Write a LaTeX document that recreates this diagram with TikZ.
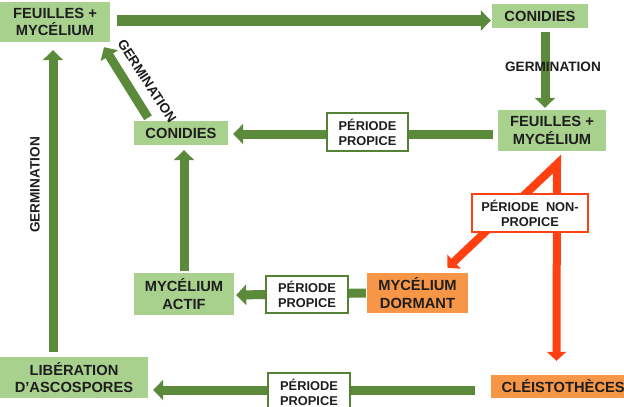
\documentclass[tikz,border=0pt]{standalone}
\usepackage{fontspec}
\setmainfont{Liberation Sans}
\usetikzlibrary{arrows.meta}
\definecolor{garr}{HTML}{5A8A3A}
\definecolor{lgreen}{HTML}{A9D18E}
\definecolor{oran}{HTML}{F79646}
\definecolor{rarr}{HTML}{FF4010}
\definecolor{bord}{HTML}{548235}
\definecolor{txt}{HTML}{1E1E1E}
\begin{document}
\begin{tikzpicture}[x=1pt,y=-1pt,
  gbox/.style={fill=lgreen, inner sep=0pt, align=center, text=txt,
    font=\bfseries\fontsize{14.7}{17.5}\selectfont},
  obox/.style={gbox, fill=oran},
  ppbox/.style={draw=bord, line width=1.8pt, fill=white, inner sep=0pt, align=center, text=txt,
    font=\bfseries\fontsize{12.8}{15}\selectfont},
  nppbox/.style={ppbox, draw=rarr},
  lab/.style={inner sep=0pt, text=txt, font=\bfseries\fontsize{13.6}{15}\selectfont},
  garrow/.style={draw=garr, line width=9pt, -{Triangle[width=20pt,length=10pt]}},
  rarrow/.style={draw=rarr, line width=8pt, line join=miter, {Triangle[width=19pt,length=9pt]}-{Triangle[width=19pt,length=9pt]}}
]
\clip (0,0) rectangle (624,407);
\fill[white] (0,0) rectangle (624,407);

% nodes
\node[gbox, minimum width=110pt, minimum height=40pt] (f1) at (55,22) {FEUILLES +\\MYCÉLIUM};
\node[gbox, minimum width=96pt, minimum height=24pt] (c1) at (540,16) {CONIDIES};
\node[gbox, minimum width=108pt, minimum height=41pt] (f2) at (552,130.5) {FEUILLES +\\MYCÉLIUM};
\node[gbox, minimum width=94pt, minimum height=24pt] (c2) at (181,133) {CONIDIES};
\node[gbox, minimum width=100pt, minimum height=42pt] (ma) at (184,294) {MYCÉLIUM\\ACTIF};
\node[obox, minimum width=101pt, minimum height=40pt] (md) at (417.5,293) {MYCÉLIUM\\DORMANT};
\node[gbox, minimum width=148pt, minimum height=41pt] (lib) at (74,377.5) {LIBÉRATION\\D’ASCOSPORES};
\node[obox, minimum width=140pt, minimum height=23pt, anchor=west] (cle) at (491,386.5) {\hspace*{4pt}CLÉISTOTHÈCES};

% green arrows
\draw[garrow, line width=11pt] ([xshift=7pt,yshift=1.5pt]f1.east) -- ([xshift=-1pt,yshift=-4.5pt]c1.west);
\draw[garrow] ([xshift=5pt,yshift=-4pt]c1.south) -- ([xshift=5pt,yshift=2pt]c1.south |- f2.north);
\node[lab] (g1) at (553,67) {GERMINATION};

\draw[garrow] ([xshift=-5pt,yshift=-3.5pt]f2.west) -- ([xshift=5pt,yshift=-1pt]c2.east);
\node[ppbox, minimum width=81pt, minimum height=38pt] (pp1) at (367.5,132) {PÉRIODE\\PROPICE};

\draw[garrow] ([xshift=0pt,yshift=2pt]ma.north) -- ([xshift=0pt,yshift=-5pt]ma.north |- c2.south);
\draw[garrow] ([xshift=-33pt,yshift=3pt]c2.north) -- ([xshift=49pt,yshift=-5pt]f1.south);
\node[lab, rotate=-57] (g2) at (147,81) {GERMINATION};

\draw[garrow] ([xshift=-21pt,yshift=5pt]lib.north) -- ([xshift=-2pt,yshift=-8pt]f1.south);
\node[lab, rotate=90] (g3) at (35,185) {GERMINATION};

\draw[garrow] ([xshift=-1pt]md.west) -- ([xshift=2pt,yshift=-1pt]ma.west -| ma.east);
\node[ppbox, minimum width=82pt, minimum height=37pt] (pp2) at (307,294.5) {PÉRIODE\\PROPICE};

\draw[garrow] ([xshift=-16pt,yshift=-3.5pt]cle.west) -- ([xshift=5pt,yshift=-12.5pt]lib.east);
\node[ppbox, minimum width=82pt, minimum height=38pt] (pp3) at (309,392) {PÉRIODE\\PROPICE};

% red arrows
\coordinate (apex) at (557,164);
\draw[rarrow] ([xshift=30pt,yshift=5pt]md.north) -- (apex) -- ([xshift=-0.5pt,yshift=14pt]cle.north -| apex);
\node[nppbox, minimum width=116pt, minimum height=38pt] (npp) at (530,213) {PÉRIODE\ \ NON-\\PROPICE};
\end{tikzpicture}
\end{document}
